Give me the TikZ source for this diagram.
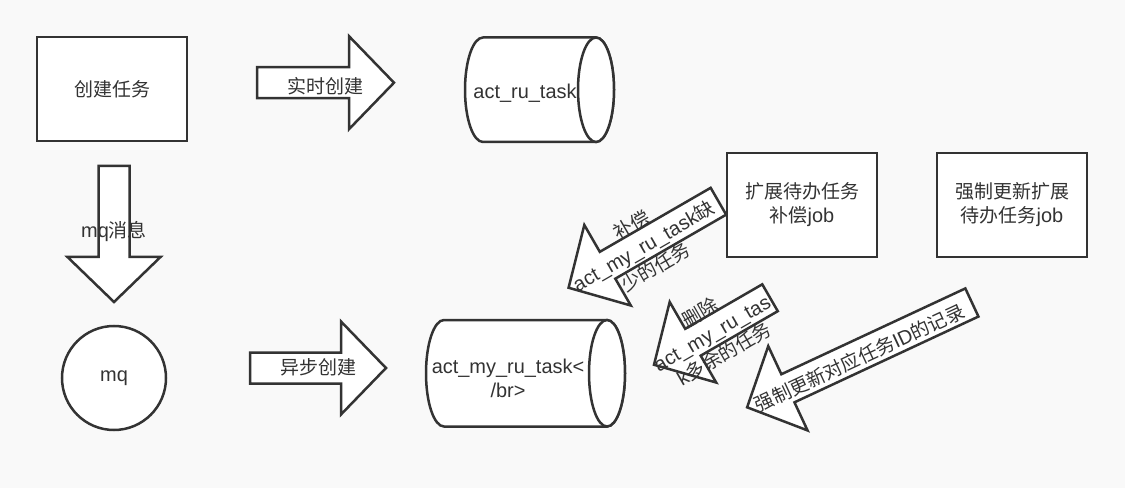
\documentclass[tikz,border=0pt]{standalone}
\usepackage{fontspec}
\setmainfont{Liberation Sans}[Scale=1.05]
\newfontfamily\cjk{Noto Sans CJK SC}

\definecolor{inkgray}{RGB}{51,51,51}
\definecolor{paper}{RGB}{249,249,249}

% block arrow pointing along the angle: center, angle, length
\newcommand{\blockarrow}[3]{%
  \draw[barrow, shift={#1}, rotate=#2]
    (-#3/2,-15.5) -- (#3/2-45,-15.5) -- (#3/2-45,-46.5) -- (#3/2,0)
    -- (#3/2-45,46.5) -- (#3/2-45,15.5) -- (-#3/2,15.5) -- cycle;
}

\begin{document}
\begin{tikzpicture}[x=1pt, y=1pt,
    every node/.style={text=inkgray, font=\fontsize{19}{24}\selectfont, align=center},
    box/.style={draw=inkgray, line width=2.5pt, fill=white,
      minimum width=150pt, minimum height=104pt, inner sep=0pt},
    barrow/.style={draw=inkgray, line width=2.5pt, fill=white, line join=miter},
    dbshape/.style={draw=inkgray, line width=2.5pt, fill=white}]

  \useasboundingbox[fill=paper] (0,0) rectangle (1125,488);

  % boxes
  \node[box] (create) at (112,399) {{\cjk 创建任务}};
  \node[box] (fixJob) at (802,283) {{\cjk 扩展待办任务}\\{\cjk 补偿}job};
  \node[box] (forceJob) at (1012,283) {{\cjk 强制更新扩展}\\{\cjk 待办任务}job};

  % mq
  \node[circle, draw=inkgray, line width=2.5pt, fill=white, minimum size=104pt,
    inner sep=0pt] (mq) at (114,110) {mq};

  % tables
  \draw[dbshape] (596,450.5) -- (483,450.5)
    arc[start angle=90, end angle=270, x radius=18, y radius=52.25] -- (596,346)
    arc[start angle=-90, end angle=90, x radius=18, y radius=52.25] -- cycle;
  \draw[dbshape] (596,398.25) ellipse[x radius=18, y radius=52.25];
  \node (ruTask) at (525,395) {act\_ru\_task};

  \draw[dbshape] (607,168) -- (444,168)
    arc[start angle=90, end angle=270, x radius=18, y radius=53.25] -- (607,61.5)
    arc[start angle=-90, end angle=90, x radius=18, y radius=53.25] -- cycle;
  \draw[dbshape] (607,114.75) ellipse[x radius=18, y radius=53.25];
  \node (myRuTask) at (508,110) {act\_my\_ru\_task<\\/br>};

  % arrows
  \blockarrow{(325.5,405.3)}{0}{137}
  \blockarrow{(114,254)}{-90}{136}
  \blockarrow{(318,120)}{0}{136}
  \blockarrow{(643.5,243.5)}{210}{173}
  \blockarrow{(712,156.75)}{210}{134}
  \blockarrow{(859.5,133.1)}{205}{248}

  \node (rtLbl) at (325.5,402) {{\cjk 实时创建}};
  \node (mqLbl) at (114,257) {mq{\cjk 消息}};
  \node (asyncLbl) at (318,121) {{\cjk 异步创建}};
  \node[rotate=30] (fixLbl) at (643.5,242) {{\cjk 补偿}\\act\_my\_ru\_task{\cjk 缺}\\{\cjk 少的任务}};
  \node[rotate=30] (delLbl) at (712,155) {{\cjk 删除}\\act\_my\_ru\_tas\\k{\cjk 多余的任务}};
  \node[rotate=25] (forceLbl) at (859.5,130) {{\cjk 强制更新对应任务}ID{\cjk 的记录}};

\end{tikzpicture}
\end{document}
